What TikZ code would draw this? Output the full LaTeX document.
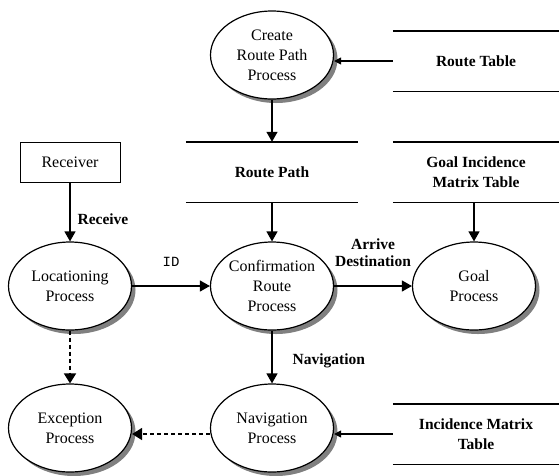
\documentclass[tikz,border=0pt]{standalone}
\usepackage{fontspec}
\setmainfont{Liberation Serif}
\newfontfamily\idfont{Liberation Mono}
\usetikzlibrary{shapes.geometric,arrows.meta,backgrounds}

\begin{document}
\begin{tikzpicture}[x=1pt,y=-1pt,
  txt/.style={font=\fontsize{16}{20}\selectfont},
  proc/.style={ellipse, draw, line width=1.2pt, fill=white,
    minimum width=123pt, minimum height=88pt, inner sep=0pt,
    align=center, txt},
  procshadow/.style={fill=black!50},
  entity/.style={draw, line width=1pt, minimum width=100pt, minimum height=40pt,
    inner sep=0pt, txt},
  store/.style={minimum height=60pt, inner sep=0pt, align=center,
    font=\fontsize{15.5}{20}\selectfont\bfseries},
  storeline/.style={line width=1.4pt},
  flow/.style={line width=1.2pt, -{Triangle[length=10pt,width=11pt]}},
  smallflow/.style={line width=1.2pt, -{Triangle[length=7pt,width=7pt]}},
  dflow/.style={line width=1.6pt, dash pattern=on 4pt off 3pt,
    -{Triangle[length=10pt,width=12pt]}},
  lbl/.style={inner sep=0pt, align=center,
    font=\fontsize{15.5}{17}\selectfont\bfseries},
]
\useasboundingbox (0,0) rectangle (559,475);

% processes
\node[proc] (crp)  at (272,55)  {Create\\Route Path\\Process};
\node[proc] (loc)  at (70,286)  {Locationing\\Process};
\node[proc] (conf) at (272,286) {Confirmation\\Route\\Process};
\node[proc] (goal) at (474,286) {Goal\\Process};
\node[proc] (exc)  at (70,428)  {Exception\\Process};
\node[proc] (nav)  at (272,428) {Navigation\\Process};

% grey drop shadows behind the process bubbles
\begin{scope}[on background layer]
  \foreach \p in {crp,loc,conf,goal,exc,nav}
    \fill[procshadow] ([shift={(4,4)}]\p.center) ellipse [x radius=61.5, y radius=44];
\end{scope}

% external entity
\node[entity] (rcv) at (70,162) {Receiver};

% data stores
\node[store, minimum width=166pt] (rt) at (476,61)  {Route Table};
\node[store, minimum width=172pt] (rp) at (272,172) {Route Path};
\node[store, minimum width=166pt] (gi) at (476,172) {Goal Incidence\\Matrix Table};
\node[store, minimum width=166pt] (im) at (476,434) {Incidence Matrix\\Table};
\foreach \s in {rt,rp,gi,im}{
  \draw[storeline] (\s.north west) -- (\s.north east);
  \draw[storeline] (\s.south west) -- (\s.south east);
}

% data flows
\draw[smallflow] (rt.west) -- (rt.west -| crp.east);
\draw[flow] (crp.south) -- (rp.north);
\draw[flow] (rp.south) -- (conf.north);
\draw[flow] (gi.south -| goal.north) -- (goal.north);
\draw[flow] (rcv.south) -- (loc.north)
  node[lbl, anchor=west, pos=0.62, xshift=7pt] (lrcv) {Receive};
\draw[flow] (loc.east) -- (conf.west)
  node[inner sep=0pt, anchor=south, midway, yshift=19pt,
       font=\fontsize{14}{16}\idfont] (lid) {ID};
\draw[flow] (conf.east) -- (goal.west)
  node[lbl, anchor=south, midway, yshift=19pt] (larr) {Arrive\\Destination};
\draw[flow] (conf.south) -- (nav.north)
  node[lbl, anchor=west, pos=0.57, xshift=20pt] (lnav) {Navigation};
\draw[smallflow] (im.west) -- (im.west -| nav.east);
\draw[dflow] (loc.south) -- (exc.north);
\draw[dflow] (im.west -| nav.west) -- (im.west -| exc.east);
\end{tikzpicture}
\end{document}
